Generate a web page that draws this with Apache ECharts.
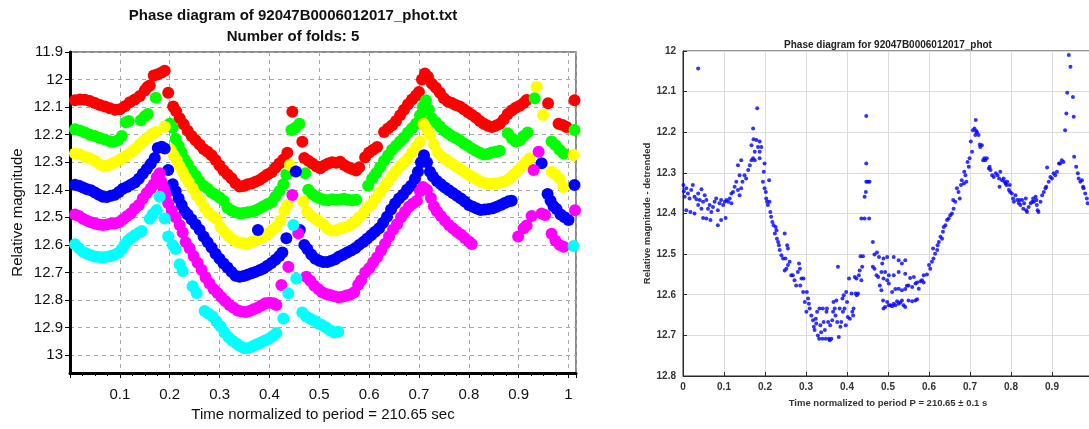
<!DOCTYPE html>
<html>
<head>
<meta charset="utf-8">
<script src="https://cdn.jsdelivr.net/npm/echarts@6/dist/echarts.min.js"></script>
<style>
  html, body { margin: 0; padding: 0; background: #ffffff; }
  #chart { width: 1089px; height: 429px; }
</style>
</head>
<body>
<div id="chart"></div>
<script>
// Folded light curve, one colour per fold: [phase, relative magnitude]
const redFold = [
  [0.010,12.075],[0.020,12.072],[0.030,12.073],[0.040,12.078],[0.050,12.085],[0.060,12.092],[0.070,12.098],
  [0.080,12.104],[0.090,12.110],[0.100,12.108],[0.110,12.097],[0.120,12.082],[0.130,12.072],[0.140,12.060],
  [0.150,12.040],[0.155,12.028],[0.160,12.022],[0.168,11.985],[0.175,11.982],[0.183,11.975],[0.190,11.968],
  [0.197,12.048],[0.207,12.098],[0.213,12.115],[0.220,12.140],[0.228,12.162],[0.236,12.186],[0.244,12.205],
  [0.252,12.220],[0.260,12.236],[0.268,12.252],[0.276,12.262],[0.284,12.275],[0.292,12.292],[0.300,12.312],
  [0.308,12.330],[0.316,12.345],[0.324,12.358],[0.332,12.376],[0.340,12.388],[0.348,12.386],[0.356,12.380],
  [0.364,12.377],[0.372,12.371],[0.380,12.365],[0.388,12.355],[0.396,12.345],[0.404,12.336],[0.412,12.320],
  [0.420,12.305],[0.428,12.290],[0.436,12.266],[0.446,12.117],[0.466,12.226],[0.470,12.285],[0.478,12.295],
  [0.486,12.305],[0.494,12.315],[0.502,12.322],[0.510,12.312],[0.518,12.305],[0.526,12.300],[0.534,12.302],
  [0.542,12.298],[0.550,12.310],[0.558,12.318],[0.566,12.325],[0.574,12.330],[0.580,12.318],
  [0.592,12.282],[0.600,12.265],[0.608,12.255],[0.616,12.245],[0.630,12.190],[0.638,12.178],[0.646,12.166],
  [0.654,12.150],[0.662,12.130],[0.670,12.110],[0.678,12.090],[0.686,12.072],[0.694,12.058],[0.700,12.045],
  [0.706,12.000],[0.712,11.978],[0.718,11.990],[0.726,12.015],[0.734,12.030],[0.742,12.048],[0.750,12.068],
  [0.758,12.080],[0.766,12.085],[0.774,12.092],[0.782,12.098],[0.790,12.108],[0.798,12.118],[0.806,12.128],
  [0.814,12.138],[0.822,12.150],[0.830,12.160],[0.838,12.168],[0.846,12.172],[0.854,12.168],[0.862,12.160],
  [0.870,12.145],[0.878,12.125],[0.886,12.112],[0.894,12.102],[0.902,12.095],[0.910,12.085],[0.916,12.074],
  [0.959,12.086],[0.980,12.160],[0.988,12.165],[0.996,12.172],[1.012,12.075]
];
const greenFold = [
  [0.010,12.180],[0.020,12.185],[0.030,12.192],[0.040,12.200],[0.050,12.205],[0.060,12.212],[0.070,12.218],
  [0.080,12.224],[0.088,12.226],[0.096,12.220],[0.104,12.205],[0.112,12.155],[0.118,12.150],[0.142,12.148],
  [0.150,12.133],[0.156,12.125],[0.172,12.066],[0.200,12.160],[0.206,12.175],[0.212,12.215],[0.218,12.240],
  [0.224,12.265],[0.230,12.290],[0.236,12.306],[0.244,12.330],[0.252,12.348],[0.260,12.370],[0.268,12.385],
  [0.276,12.395],[0.284,12.410],[0.292,12.418],[0.300,12.428],[0.308,12.440],[0.316,12.465],[0.324,12.475],
  [0.332,12.482],[0.340,12.485],[0.348,12.484],[0.356,12.482],[0.364,12.480],[0.372,12.475],[0.380,12.468],
  [0.388,12.460],[0.396,12.452],[0.404,12.445],[0.412,12.425],[0.420,12.405],[0.428,12.380],[0.434,12.345],
  [0.444,12.183],[0.452,12.175],[0.460,12.160],[0.448,12.330],[0.472,12.340],[0.478,12.400],[0.486,12.415],
  [0.494,12.425],[0.502,12.432],[0.510,12.436],[0.518,12.438],[0.526,12.434],[0.534,12.436],[0.542,12.435],
  [0.550,12.433],[0.558,12.436],[0.566,12.438],[0.574,12.436],[0.598,12.385],[0.606,12.360],[0.614,12.340],
  [0.622,12.318],[0.630,12.295],[0.638,12.275],[0.646,12.255],[0.654,12.240],[0.662,12.225],[0.670,12.210],
  [0.678,12.192],[0.686,12.177],[0.694,12.160],[0.702,12.130],[0.708,12.100],[0.714,12.075],[0.720,12.110],
  [0.726,12.140],[0.734,12.155],[0.742,12.170],[0.750,12.185],[0.758,12.195],[0.766,12.205],[0.774,12.212],
  [0.782,12.220],[0.790,12.232],[0.798,12.240],[0.806,12.250],[0.814,12.258],[0.822,12.266],[0.830,12.272],
  [0.838,12.270],[0.846,12.265],[0.854,12.262],[0.862,12.258],[0.878,12.195],[0.886,12.212],[0.894,12.225],
  [0.902,12.220],[0.910,12.205],[0.918,12.192],[0.932,12.068],[0.966,12.225],[0.974,12.238],[0.982,12.255],
  [0.990,12.268],[1.012,12.183]
];
const yellowFold = [
  [0.010,12.268],[0.020,12.272],[0.030,12.280],[0.040,12.286],[0.050,12.296],[0.060,12.308],[0.068,12.315],
  [0.076,12.312],[0.084,12.305],[0.092,12.298],[0.100,12.290],[0.108,12.282],[0.116,12.272],[0.124,12.262],
  [0.132,12.250],[0.140,12.236],[0.148,12.222],[0.156,12.210],[0.164,12.198],[0.172,12.190],[0.190,12.171],
  [0.202,12.255],[0.208,12.275],[0.214,12.292],[0.220,12.315],[0.226,12.335],[0.232,12.355],[0.238,12.372],
  [0.246,12.395],[0.254,12.420],[0.262,12.440],[0.270,12.465],[0.278,12.483],[0.286,12.495],[0.294,12.505],
  [0.302,12.535],[0.310,12.552],[0.318,12.568],[0.326,12.580],[0.334,12.588],[0.342,12.592],[0.350,12.594],
  [0.358,12.594],[0.366,12.588],[0.374,12.582],[0.382,12.575],[0.390,12.568],[0.398,12.558],[0.406,12.545],
  [0.414,12.534],[0.422,12.512],[0.430,12.475],[0.436,12.455],[0.441,12.310],[0.468,12.443],[0.476,12.480],
  [0.484,12.495],[0.492,12.505],[0.500,12.515],[0.508,12.525],[0.516,12.540],[0.524,12.548],[0.532,12.548],
  [0.540,12.542],[0.548,12.538],[0.556,12.533],[0.564,12.525],[0.572,12.516],[0.580,12.500],[0.590,12.480],
  [0.598,12.462],[0.606,12.450],[0.614,12.430],[0.622,12.410],[0.630,12.390],[0.638,12.370],[0.646,12.350],
  [0.654,12.332],[0.662,12.315],[0.670,12.300],[0.678,12.285],[0.686,12.265],[0.694,12.245],[0.702,12.225],
  [0.709,12.160],[0.716,12.180],[0.722,12.200],[0.730,12.235],[0.738,12.265],[0.746,12.280],[0.754,12.290],
  [0.762,12.300],[0.770,12.310],[0.778,12.318],[0.786,12.328],[0.794,12.338],[0.802,12.348],[0.810,12.356],
  [0.818,12.365],[0.826,12.372],[0.834,12.376],[0.842,12.378],[0.850,12.377],[0.858,12.376],[0.866,12.373],
  [0.874,12.368],[0.882,12.358],[0.890,12.345],[0.898,12.330],[0.906,12.315],[0.914,12.300],[0.922,12.286],
  [0.936,12.026],[0.949,12.129],[0.966,12.335],[0.974,12.345],[0.982,12.360],[0.990,12.390],[1.010,12.274]
];
const blueFold = [
  [0.010,12.382],[0.018,12.385],[0.026,12.392],[0.034,12.398],[0.042,12.402],[0.050,12.410],[0.058,12.418],
  [0.066,12.425],[0.074,12.426],[0.082,12.422],[0.090,12.418],[0.098,12.408],[0.106,12.396],[0.114,12.390],
  [0.122,12.382],[0.130,12.374],[0.138,12.360],[0.146,12.342],[0.154,12.325],[0.162,12.306],[0.170,12.285],
  [0.176,12.248],[0.184,12.244],[0.190,12.250],[0.197,12.328],[0.206,12.380],[0.212,12.405],[0.218,12.432],
  [0.224,12.455],[0.230,12.478],[0.236,12.490],[0.244,12.508],[0.252,12.526],[0.260,12.545],[0.268,12.570],
  [0.276,12.590],[0.284,12.610],[0.292,12.632],[0.300,12.650],[0.308,12.668],[0.316,12.682],[0.324,12.698],
  [0.332,12.712],[0.340,12.716],[0.348,12.713],[0.356,12.708],[0.364,12.703],[0.372,12.698],[0.380,12.692],
  [0.388,12.686],[0.396,12.676],[0.404,12.666],[0.412,12.654],[0.420,12.640],[0.426,12.628],[0.377,12.546],
  [0.434,12.576],[0.453,12.334],[0.461,12.546],[0.470,12.600],[0.476,12.615],[0.484,12.635],[0.492,12.650],
  [0.500,12.658],[0.508,12.662],[0.516,12.662],[0.524,12.658],[0.532,12.652],[0.540,12.642],[0.548,12.636],
  [0.556,12.628],[0.564,12.620],[0.572,12.612],[0.580,12.600],[0.588,12.590],[0.596,12.578],[0.604,12.565],
  [0.612,12.552],[0.620,12.540],[0.628,12.520],[0.636,12.498],[0.644,12.472],[0.652,12.450],[0.660,12.432],
  [0.668,12.418],[0.676,12.400],[0.684,12.385],[0.692,12.360],[0.698,12.335],[0.704,12.300],[0.710,12.275],
  [0.716,12.300],[0.722,12.335],[0.728,12.352],[0.736,12.368],[0.744,12.380],[0.752,12.392],[0.760,12.402],
  [0.768,12.412],[0.776,12.422],[0.784,12.432],[0.792,12.443],[0.800,12.455],[0.808,12.462],[0.816,12.468],
  [0.824,12.473],[0.832,12.472],[0.840,12.470],[0.848,12.467],[0.856,12.462],[0.864,12.455],[0.872,12.448],
  [0.880,12.442],[0.886,12.440],[0.946,12.304],[0.958,12.415],[0.964,12.440],[0.970,12.460],[0.976,12.470],
  [0.984,12.490],[0.992,12.500],[1.000,12.510],[1.012,12.383]
];
const magentaFold = [
  [0.010,12.490],[0.018,12.495],[0.026,12.505],[0.034,12.512],[0.042,12.518],[0.050,12.522],[0.058,12.526],
  [0.066,12.528],[0.074,12.526],[0.082,12.522],[0.090,12.522],[0.098,12.518],[0.106,12.508],[0.114,12.496],
  [0.122,12.485],[0.130,12.468],[0.138,12.455],[0.146,12.432],[0.154,12.412],[0.162,12.395],[0.168,12.380],
  [0.174,12.355],[0.180,12.340],[0.184,12.372],[0.188,12.395],[0.192,12.415],[0.197,12.449],[0.204,12.475],
  [0.212,12.500],[0.220,12.528],[0.226,12.555],[0.232,12.590],[0.240,12.612],[0.248,12.640],[0.256,12.665],
  [0.264,12.690],[0.272,12.718],[0.280,12.740],[0.288,12.760],[0.296,12.775],[0.304,12.790],[0.312,12.805],
  [0.320,12.818],[0.328,12.828],[0.336,12.838],[0.344,12.842],[0.352,12.844],[0.360,12.840],[0.368,12.834],
  [0.376,12.828],[0.384,12.820],[0.392,12.812],[0.400,12.810],[0.408,12.812],[0.414,12.818],[0.424,12.746],
  [0.438,12.679],[0.446,12.419],[0.458,12.558],[0.474,12.716],[0.482,12.730],[0.490,12.748],[0.498,12.760],
  [0.506,12.772],[0.514,12.778],[0.522,12.782],[0.530,12.786],[0.538,12.790],[0.546,12.788],[0.554,12.784],
  [0.562,12.780],[0.570,12.772],[0.578,12.745],[0.584,12.728],[0.592,12.700],[0.600,12.685],[0.608,12.664],
  [0.616,12.645],[0.624,12.620],[0.632,12.596],[0.640,12.570],[0.648,12.545],[0.656,12.525],[0.664,12.500],
  [0.672,12.480],[0.680,12.462],[0.688,12.450],[0.696,12.440],[0.702,12.405],[0.708,12.390],[0.716,12.400],
  [0.724,12.430],[0.730,12.460],[0.736,12.478],[0.744,12.495],[0.752,12.512],[0.760,12.528],[0.768,12.540],
  [0.776,12.552],[0.784,12.562],[0.792,12.575],[0.800,12.588],[0.806,12.597],[0.899,12.570],[0.910,12.540],
  [0.916,12.530],[0.926,12.495],[0.930,12.328],[0.940,12.262],[0.946,12.486],[0.953,12.492],[0.966,12.560],
  [0.974,12.585],[0.982,12.600],[0.990,12.607],[1.013,12.474]
];
const cyanFold = [
  [0.010,12.598],[0.018,12.612],[0.026,12.625],[0.034,12.632],[0.042,12.638],[0.050,12.642],[0.058,12.644],
  [0.066,12.645],[0.074,12.643],[0.082,12.640],[0.090,12.636],[0.098,12.628],[0.104,12.615],[0.110,12.598],
  [0.116,12.585],[0.122,12.575],[0.130,12.565],[0.138,12.556],[0.144,12.550],[0.160,12.505],[0.166,12.488],
  [0.174,12.473],[0.180,12.425],[0.190,12.504],[0.197,12.570],[0.206,12.600],[0.212,12.615],[0.220,12.670],
  [0.226,12.695],[0.246,12.750],[0.254,12.775],[0.270,12.840],[0.278,12.850],[0.286,12.860],[0.294,12.878],
  [0.302,12.895],[0.310,12.918],[0.318,12.935],[0.326,12.948],[0.334,12.958],[0.342,12.968],[0.350,12.975],
  [0.358,12.974],[0.366,12.968],[0.374,12.962],[0.382,12.955],[0.390,12.948],[0.398,12.942],[0.406,12.932],
  [0.414,12.920],[0.428,12.867],[0.438,12.776],[0.448,12.528],[0.454,12.722],[0.466,12.845],[0.474,12.860],
  [0.482,12.868],[0.490,12.875],[0.498,12.885],[0.506,12.892],[0.514,12.900],[0.522,12.910],[0.530,12.918],
  [0.538,12.915],[1.010,12.604]
];

// Detrended single-period phase diagram: [phase, relative magnitude]
const detrended = [
  [0.001,12.330],[0.002,12.345],[0.004,12.359],[0.008,12.338],[0.012,12.351],[0.016,12.363],[0.020,12.342],
  [0.024,12.330],[0.028,12.359],[0.033,12.365],[0.037,12.351],[0.041,12.367],[0.045,12.340],[0.008,12.392],
  [0.018,12.396],[0.028,12.400],[0.037,12.379],[0.045,12.388],[0.049,12.371],[0.053,12.355],[0.057,12.367],
  [0.061,12.388],[0.065,12.379],[0.069,12.396],[0.073,12.384],[0.077,12.371],[0.081,12.363],[0.085,12.392],
  [0.089,12.375],[0.093,12.367],[0.098,12.379],[0.102,12.371],[0.106,12.367],[0.110,12.371],[0.114,12.363],
  [0.118,12.375],[0.049,12.411],[0.057,12.412],[0.067,12.416],[0.085,12.429],[0.093,12.416],[0.104,12.411],
  [0.118,12.351],[0.122,12.347],[0.126,12.334],[0.130,12.322],[0.134,12.342],[0.138,12.355],[0.142,12.338],
  [0.145,12.322],[0.138,12.306],[0.134,12.281],[0.142,12.269],[0.150,12.306],[0.154,12.314],[0.159,12.293],
  [0.163,12.281],[0.167,12.269],[0.171,12.264],[0.175,12.248],[0.167,12.232],[0.172,12.217],[0.179,12.219],
  [0.187,12.223],[0.183,12.236],[0.187,12.248],[0.191,12.236],[0.171,12.191],[0.181,12.141],[0.175,12.269],
  [0.187,12.264],[0.199,12.277],[0.197,12.297],[0.195,12.322],[0.199,12.338],[0.202,12.347],[0.203,12.363],
  [0.205,12.371],[0.207,12.379],[0.210,12.318],[0.211,12.371],[0.213,12.396],[0.215,12.408],[0.218,12.421],
  [0.221,12.429],[0.224,12.449],[0.226,12.433],[0.228,12.441],[0.229,12.462],[0.232,12.470],[0.234,12.478],
  [0.236,12.490],[0.240,12.503],[0.244,12.511],[0.248,12.449],[0.250,12.511],[0.254,12.478],[0.256,12.486],
  [0.248,12.540],[0.252,12.536],[0.256,12.527],[0.260,12.519],[0.264,12.552],[0.268,12.552],[0.272,12.564],
  [0.276,12.577],[0.280,12.544],[0.283,12.523],[0.285,12.536],[0.286,12.577],[0.289,12.560],[0.293,12.593],
  [0.294,12.560],[0.297,12.618],[0.301,12.642],[0.302,12.593],[0.305,12.609],[0.307,12.622],[0.309,12.634],
  [0.313,12.651],[0.317,12.663],[0.319,12.679],[0.321,12.687],[0.324,12.659],[0.325,12.671],[0.327,12.642],
  [0.329,12.700],[0.332,12.708],[0.333,12.634],[0.335,12.675],[0.337,12.692],[0.340,12.708],[0.341,12.634],
  [0.343,12.667],[0.346,12.687],[0.348,12.708],[0.350,12.642],[0.351,12.634],[0.354,12.667],[0.356,12.708],
  [0.358,12.712],[0.359,12.675],[0.362,12.708],[0.364,12.663],[0.366,12.642],[0.367,12.618],[0.370,12.634],
  [0.372,12.651],[0.374,12.614],[0.376,12.667],[0.378,12.531],[0.380,12.704],[0.382,12.634],[0.384,12.679],
  [0.386,12.667],[0.389,12.609],[0.390,12.642],[0.392,12.601],[0.394,12.634],[0.397,12.675],[0.398,12.593],
  [0.400,12.618],[0.402,12.655],[0.405,12.560],[0.407,12.659],[0.411,12.597],[0.413,12.642],[0.415,12.651],
  [0.416,12.634],[0.419,12.556],[0.421,12.597],[0.423,12.560],[0.424,12.601],[0.427,12.597],[0.429,12.552],
  [0.431,12.540],[0.433,12.505],[0.435,12.564],[0.437,12.531],[0.439,12.505],[0.435,12.412],[0.443,12.412],
  [0.454,12.412],[0.443,12.359],[0.446,12.347],[0.447,12.322],[0.451,12.322],[0.455,12.322],[0.447,12.277],
  [0.447,12.160],[0.463,12.470],[0.467,12.501],[0.473,12.496],[0.478,12.507],[0.484,12.544],[0.486,12.523],
  [0.489,12.560],[0.463,12.531],[0.467,12.536],[0.472,12.552],[0.476,12.556],[0.480,12.577],[0.484,12.589],
  [0.488,12.614],[0.489,12.634],[0.489,12.511],[0.498,12.507],[0.514,12.507],[0.526,12.515],[0.534,12.523],
  [0.542,12.515],[0.493,12.544],[0.502,12.552],[0.514,12.552],[0.526,12.544],[0.542,12.548],[0.554,12.559],
  [0.563,12.556],[0.498,12.564],[0.502,12.572],[0.510,12.593],[0.518,12.586],[0.526,12.585],[0.534,12.589],
  [0.542,12.586],[0.546,12.578],[0.550,12.577],[0.559,12.581],[0.567,12.572],[0.571,12.570],[0.575,12.585],
  [0.579,12.567],[0.583,12.564],[0.587,12.570],[0.498,12.618],[0.506,12.626],[0.514,12.622],[0.522,12.616],
  [0.530,12.619],[0.534,12.614],[0.538,12.626],[0.542,12.630],[0.550,12.614],[0.559,12.616],[0.567,12.614],
  [0.571,12.611],[0.493,12.630],[0.502,12.626],[0.510,12.628],[0.518,12.626],[0.526,12.622],[0.587,12.552],
  [0.595,12.550],[0.600,12.527],[0.603,12.536],[0.607,12.519],[0.611,12.511],[0.610,12.486],[0.615,12.499],
  [0.620,12.490],[0.621,12.478],[0.624,12.470],[0.628,12.457],[0.632,12.462],[0.634,12.445],[0.636,12.433],
  [0.640,12.429],[0.644,12.416],[0.648,12.412],[0.652,12.404],[0.656,12.400],[0.660,12.388],[0.659,12.367],
  [0.664,12.371],[0.668,12.338],[0.672,12.347],[0.675,12.363],[0.678,12.330],[0.680,12.318],[0.685,12.326],
  [0.686,12.297],[0.689,12.306],[0.691,12.322],[0.694,12.273],[0.697,12.285],[0.699,12.264],[0.702,12.223],
  [0.705,12.248],[0.707,12.195],[0.711,12.191],[0.713,12.207],[0.715,12.197],[0.717,12.200],[0.721,12.207],
  [0.714,12.170],[0.724,12.230],[0.725,12.236],[0.729,12.232],[0.732,12.269],[0.735,12.264],[0.737,12.269],
  [0.741,12.264],[0.746,12.289],[0.748,12.285],[0.750,12.293],[0.754,12.306],[0.758,12.310],[0.763,12.301],
  [0.767,12.306],[0.771,12.314],[0.772,12.334],[0.774,12.297],[0.778,12.318],[0.782,12.314],[0.784,12.322],
  [0.787,12.326],[0.789,12.330],[0.791,12.322],[0.795,12.342],[0.797,12.330],[0.798,12.347],[0.802,12.351],
  [0.805,12.363],[0.807,12.371],[0.811,12.355],[0.815,12.367],[0.819,12.375],[0.821,12.367],[0.823,12.379],
  [0.827,12.367],[0.830,12.388],[0.832,12.375],[0.836,12.363],[0.837,12.392],[0.839,12.396],[0.843,12.384],
  [0.848,12.375],[0.852,12.371],[0.854,12.363],[0.856,12.371],[0.860,12.359],[0.862,12.367],[0.863,12.379],
  [0.865,12.392],[0.867,12.396],[0.872,12.371],[0.876,12.355],[0.880,12.347],[0.884,12.338],[0.886,12.334],
  [0.888,12.287],[0.892,12.322],[0.896,12.310],[0.900,12.314],[0.904,12.301],[0.908,12.306],[0.912,12.297],
  [0.917,12.277],[0.920,12.277],[0.924,12.269],[0.928,12.273],[0.932,12.195],[0.935,12.154],[0.937,12.103],
  [0.941,12.010],[0.945,12.039],[0.951,12.113],[0.953,12.162],[0.954,12.260],[0.959,12.285],[0.963,12.301],
  [0.965,12.314],[0.969,12.322],[0.973,12.318],[0.976,12.334],[0.977,12.338],[0.981,12.351],[0.985,12.363],
  [0.987,12.375],[0.037,12.043]
];

const foldSeries = [
  { name: 'Fold 1', color: '#ff0000', points: redFold },
  { name: 'Fold 2', color: '#00ff00', points: greenFold },
  { name: 'Fold 3', color: '#ffff00', points: yellowFold },
  { name: 'Fold 4', color: '#0000ff', points: blueFold },
  { name: 'Fold 5', color: '#ff00ff', points: magentaFold },
  { name: 'Fold 6', color: '#00ffff', points: cyanFold }
];

const sansFont = '"Liberation Sans", Arial, sans-serif';
const chart = echarts.init(document.getElementById('chart'), null, { renderer: 'canvas' });

const option = {
  backgroundColor: '#ffffff',
  animation: false,
  graphic: [
    { type: 'text', x: 293, y: 16, style: { text: 'Phase diagram of 92047B0006012017_phot.txt', font: 'bold 15px ' + sansFont, fill: '#111', align: 'center', verticalAlign: 'middle', textAlign: 'center', textVerticalAlign: 'middle' } },
    { type: 'text', x: 293, y: 37, style: { text: 'Number of folds: 5', font: 'bold 15px ' + sansFont, fill: '#111', align: 'center', verticalAlign: 'middle', textAlign: 'center', textVerticalAlign: 'middle' } },
    { type: 'text', x: 888, y: 45, style: { text: 'Phase diagram for 92047B0006012017_phot', font: 'bold 10px ' + sansFont, fill: '#222', align: 'center', verticalAlign: 'middle', textAlign: 'center', textVerticalAlign: 'middle' } }
  ],
  grid: [
    { left: 70, top: 52, width: 506, height: 321, show: true, borderColor: '#666', borderWidth: 1.5, containLabel: false, outerBoundsMode: 'none' },
    { left: 683, top: 51, width: 410, height: 325, show: true, borderColor: '#2b2b2b', borderWidth: 1, containLabel: false, outerBoundsMode: 'none' }
  ],
  xAxis: [
    {
      gridIndex: 0, type: 'value', min: 0, max: 1.015, interval: 0.1,
      name: 'Time normalized to period = 210.65 sec', nameLocation: 'middle', nameGap: 34,
      nameTextStyle: { fontSize: 15, fontFamily: sansFont, color: '#111' },
      axisLine: { show: true, onZero: false, lineStyle: { color: '#000', width: 3 } },
      axisTick: { show: true, inside: false, length: 5, lineStyle: { color: '#000' } },
      minorTick: { show: true, splitNumber: 4, length: 3, lineStyle: { color: '#000' } },
      splitLine: { show: true, lineStyle: { color: '#a8a8a8', type: [4, 4], width: 1 } },
      axisLabel: { fontSize: 15, fontFamily: sansFont, color: '#111', margin: 14, showMinLabel: false, showMaxLabel: false }
    },
    {
      gridIndex: 1, type: 'value', min: 0, max: 1, interval: 0.1,
      name: 'Time normalized to period P = 210.65 \u00b1 0.1 s', nameLocation: 'middle', nameGap: 22,
      nameTextStyle: { fontSize: 9.5, fontWeight: 'bold', fontFamily: sansFont, color: '#333' },
      axisLine: { show: true, onZero: false, lineStyle: { color: '#2b2b2b', width: 1 } },
      axisTick: { show: true, inside: true, length: 4, lineStyle: { color: '#2b2b2b' } },
      splitLine: { show: true, lineStyle: { color: '#dcdcdc', width: 1 } },
      axisLabel: { fontSize: 10, fontWeight: 'bold', fontFamily: sansFont, color: '#333', margin: 6 }
    }
  ],
  yAxis: [
    {
      gridIndex: 0, type: 'value', inverse: true, min: 11.9, max: 13.065, interval: 0.1,
      name: 'Relative magnitude', nameLocation: 'middle', nameGap: 45, nameRotate: 90,
      nameTextStyle: { fontSize: 15, fontFamily: sansFont, color: '#111' },
      axisLine: { show: true, onZero: false, lineStyle: { color: '#000', width: 3 } },
      axisTick: { show: true, inside: false, length: 5, lineStyle: { color: '#000' } },
      splitLine: { show: true, lineStyle: { color: '#a8a8a8', type: [4, 4], width: 1 } },
      axisLabel: { fontSize: 15, fontFamily: sansFont, color: '#111', margin: 7, showMaxLabel: false }
    },
    {
      gridIndex: 1, type: 'value', inverse: true, min: 12, max: 12.8, interval: 0.1,
      name: 'Relative magnitude - detrended', nameLocation: 'middle', nameGap: 28, nameRotate: 90,
      nameTextStyle: { fontSize: 9.5, fontWeight: 'bold', fontFamily: sansFont, color: '#333' },
      axisLine: { show: true, onZero: false, lineStyle: { color: '#2b2b2b', width: 1 } },
      axisTick: { show: true, inside: true, length: 4, lineStyle: { color: '#2b2b2b' } },
      splitLine: { show: true, lineStyle: { color: '#dcdcdc', width: 1 } },
      axisLabel: { fontSize: 10, fontWeight: 'bold', fontFamily: sansFont, color: '#333', margin: 7 }
    }
  ],
  series: foldSeries.map(f => ({
    type: 'scatter', name: f.name, xAxisIndex: 0, yAxisIndex: 0,
    data: f.points, symbol: 'circle', symbolSize: 12,
    itemStyle: { color: f.color, opacity: 1 },
    clip: true
  })).concat([{
    type: 'scatter', name: 'Detrended', xAxisIndex: 1, yAxisIndex: 1,
    data: detrended, symbol: 'circle', symbolSize: 4,
    itemStyle: { color: '#0000ff' },
    clip: true
  }])
};

chart.setOption(option);
</script>
</body>
</html>
